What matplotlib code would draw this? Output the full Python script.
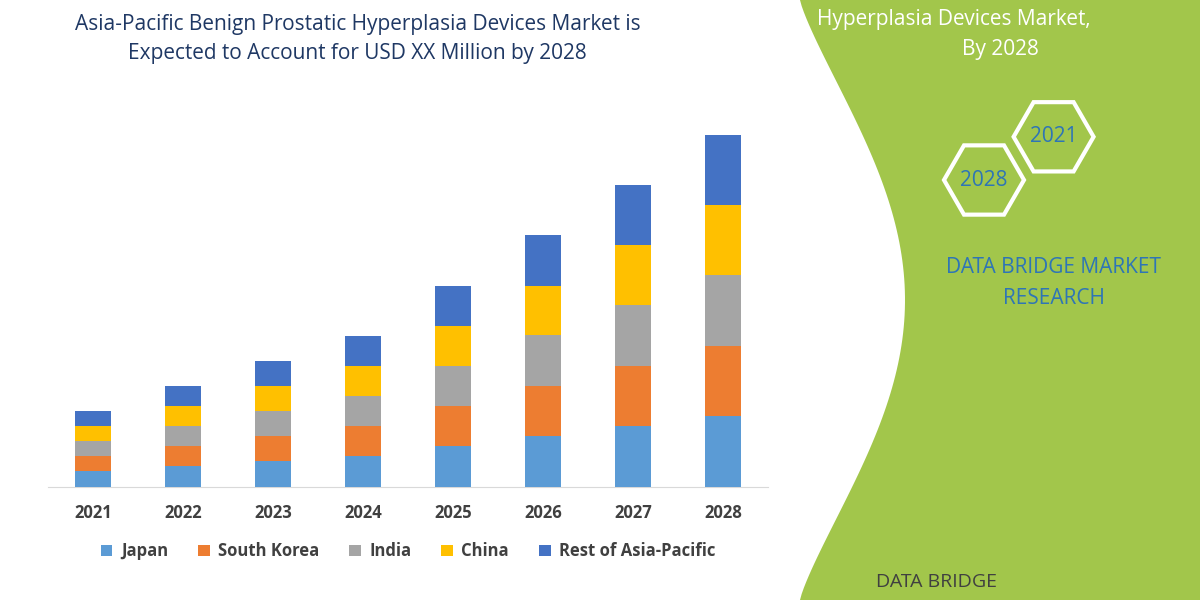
import matplotlib
matplotlib.use("Agg")
import matplotlib.pyplot as plt
import numpy as np
from matplotlib.patches import Polygon, RegularPolygon

years = ["2021", "2022", "2023", "2024", "2025", "2026", "2027", "2028"]
japan = [16, 21, 26, 31, 41, 51, 61, 71]
south_korea = [15, 20, 25, 30, 40, 50, 60, 70]
india = [15, 20, 25, 30, 40, 51, 61, 71]
china = [15, 20, 25, 30, 40, 49, 60, 70]
rest = [15, 20, 25, 30, 40, 51, 60, 70]
series = [("Japan", japan, "#5b9bd5"), ("South Korea", south_korea, "#ed7d31"),
          ("India", india, "#a5a5a5"), ("China", china, "#ffc000"),
          ("Rest of Asia-Pacific", rest, "#4472c4")]

fig = plt.figure(figsize=(12, 6), dpi=100)
fig.patch.set_facecolor("white")

# green panel
t = np.linspace(0, 1, 100)
xs = 800/1200 + (105/1200) * np.sin(np.pi * t) ** 1.2
ys = 1 - t
pts = list(zip(xs, ys)) + [(1, 0), (1, 1)]
fig.patches.append(Polygon(pts, closed=True, transform=fig.transFigure, facecolor="#a2c64b", edgecolor="none", zorder=0))

ax = fig.add_axes([0.04, 0.188, 0.6, 0.667])
ax.set_facecolor("none")
x = np.arange(len(years))
bottom = np.zeros(len(years))
for name, vals, col in series:
    ax.bar(x, vals, 0.4, bottom=bottom, color=col, label=name, zorder=3)
    bottom += np.array(vals)
ax.set_xlim(-0.5, 7.5)
ax.set_ylim(0, 400)
ax.set_xticks(x)
ax.set_xticklabels(years, fontsize=12, fontweight="bold", color="#404040", family="Open Sans")
ax.tick_params(axis="x", length=0, pad=12)
ax.set_yticks([])
for s in ["top", "right", "left"]:
    ax.spines[s].set_visible(False)
ax.spines["bottom"].set_color("#d9d9d9")
leg = ax.legend(loc="upper center", bbox_to_anchor=(0.5, -0.1), ncol=5, frameon=False,
                prop={"family": "Open Sans", "weight": "bold", "size": 12},
                handlelength=0.7, handleheight=0.7, columnspacing=1.8, handletextpad=0.5)
for tx in leg.get_texts():
    tx.set_color("#404040")

fig.text(0.298, 0.935, "Asia-Pacific Benign Prostatic Hyperplasia Devices Market is\nExpected to Account for USD XX Million by 2028",
         ha="center", va="center", fontsize=15, color="#1f3864", family="Open Sans", linespacing=1.55)
fig.text(0.795, 0.968, "Hyperplasia Devices Market,", ha="center", va="center",
         fontsize=15, color="white", family="Open Sans")
fig.text(0.834, 0.918, "By 2028", ha="center", va="center",
         fontsize=15, color="white", family="Open Sans")
for cx, cy, lab in [(0.82, 0.70, "2028"), (0.878, 0.772, "2021")]:
    fig.patches.append(RegularPolygon((cx * 1200, cy * 600), 6, radius=40, orientation=np.pi / 6,
                                      transform=None, facecolor="none", edgecolor="white", lw=3))
    fig.text(cx, cy, lab, ha="center", va="center", fontsize=15, color="#2e75b6", family="Open Sans")
fig.text(0.878, 0.528, "DATA BRIDGE MARKET\nRESEARCH", ha="center", va="center", fontsize=15,
         color="#2e75b6", family="Open Sans", linespacing=1.6)
fig.text(0.73, 0.03, "DATA BRIDGE", ha="left", va="center", fontsize=14, color="#404040", family="Open Sans")

fig.savefig("out.png", dpi=100)
